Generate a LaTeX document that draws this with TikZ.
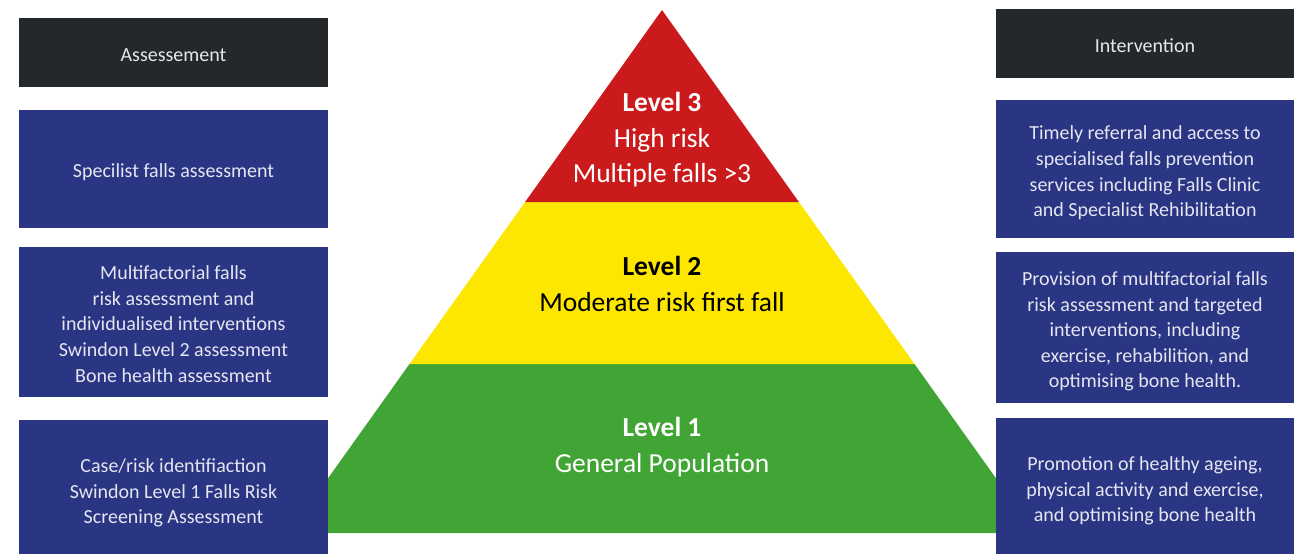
\documentclass[tikz,border=0pt]{standalone}
\usepackage{fontspec}
\setmainfont{Carlito}
\usepackage{xcolor}
\usetikzlibrary{positioning}

\definecolor{hdrgray}{HTML}{24282B}
\definecolor{boxblue}{HTML}{2A3583}
\definecolor{lvlred}{HTML}{CB1A1B}
\definecolor{lvlyellow}{HTML}{FDE700}
\definecolor{lvlgreen}{HTML}{40A535}
\definecolor{boxtext}{HTML}{E4E6F0}

\begin{document}
\begin{tikzpicture}[x=1pt,y=-1pt,
                    every node/.style={font=\fontsize{20}{25.6}\selectfont,align=center,inner sep=0pt},
                    head/.style={fill=hdrgray},
                    info/.style={fill=boxblue},
                    boxtxt/.style={text=boxtext},
                    level/.style={font=\fontsize{27.5}{35.5}\selectfont}]
    \useasboundingbox (0,0) rectangle (1294,554);

    % pyramid bands, drawn first so the boxes sit on top
    \fill[lvlgreen]  (409.5,364) -- (914.5,364) -- (1035,533) -- (289,533) -- cycle;
    \fill[lvlyellow] (525.1,202) -- (798.9,202) -- (914.5,364) -- (409.5,364) -- cycle;
    \fill[lvlred]    (662,10) -- (798.9,202) -- (525.1,202) -- cycle;

    \node[level,text=white] (L3) at (662,140) {\textbf{Level 3}\\High risk\\Multiple falls >3};
    \node[level,text=black] (L2) at (662,284) {\textbf{Level 2}\\Moderate risk first fall};
    \node[level,text=white] (L1) at (662,447) {\textbf{Level 1}\\General Population};

    % assessment column
    \node[head,minimum width=309,minimum height=69]  (assess) at (173.5,52.5) {};
    \node[info,minimum width=309,minimum height=118] (A3) at (173.5,169) {};
    \node[info,minimum width=309,minimum height=150] (A2) at (173.5,322) {};
    \node[info,minimum width=309,minimum height=134] (A1) at (173.5,487) {};

    \node[boxtxt] (assesstxt) at ([yshift=-3pt]assess.center) {Assessement};
    \node[boxtxt] (A3txt) at ([yshift=-3pt]A3.center) {Specilist falls assessment};
    \node[boxtxt] (A2txt) at ([yshift=-2pt]A2.center)
        {Multifactorial falls\\risk assessment and\\individualised interventions\\Swindon Level 2 assessment\\Bone health assessment};
    \node[boxtxt] (A1txt) at ([yshift=-6pt]A1.center)
        {Case/risk identifiaction\\Swindon Level 1 Falls Risk\\Screening Assessment};

    % intervention column
    \node[head,minimum width=298,minimum height=69]  (interv) at (1145,43.5) {};
    \node[info,minimum width=298,minimum height=138] (I3) at (1145,169) {};
    \node[info,minimum width=298,minimum height=151] (I2) at (1145,327.5) {};
    \node[info,minimum width=298,minimum height=136] (I1) at (1145,486) {};

    \node[boxtxt] (intervtxt) at ([yshift=-2pt]interv.center) {Intervention};
    \node[boxtxt] (I3txt) at ([yshift=-4pt]I3.center)
        {Timely referral and access to\\specialised falls prevention\\services including Falls Clinic\\and Specialist Rehibilitation};
    \node[boxtxt] (I2txt) at ([yshift=-4pt]I2.center)
        {Provision of multifactorial falls\\risk assessment and targeted\\interventions, including\\exercise, rehabilition, and\\optimising bone health.};
    \node[boxtxt] (I1txt) at ([yshift=-5pt]I1.center)
        {Promotion of healthy ageing,\\physical activity and exercise,\\and optimising bone health};
\end{tikzpicture}
\end{document}
